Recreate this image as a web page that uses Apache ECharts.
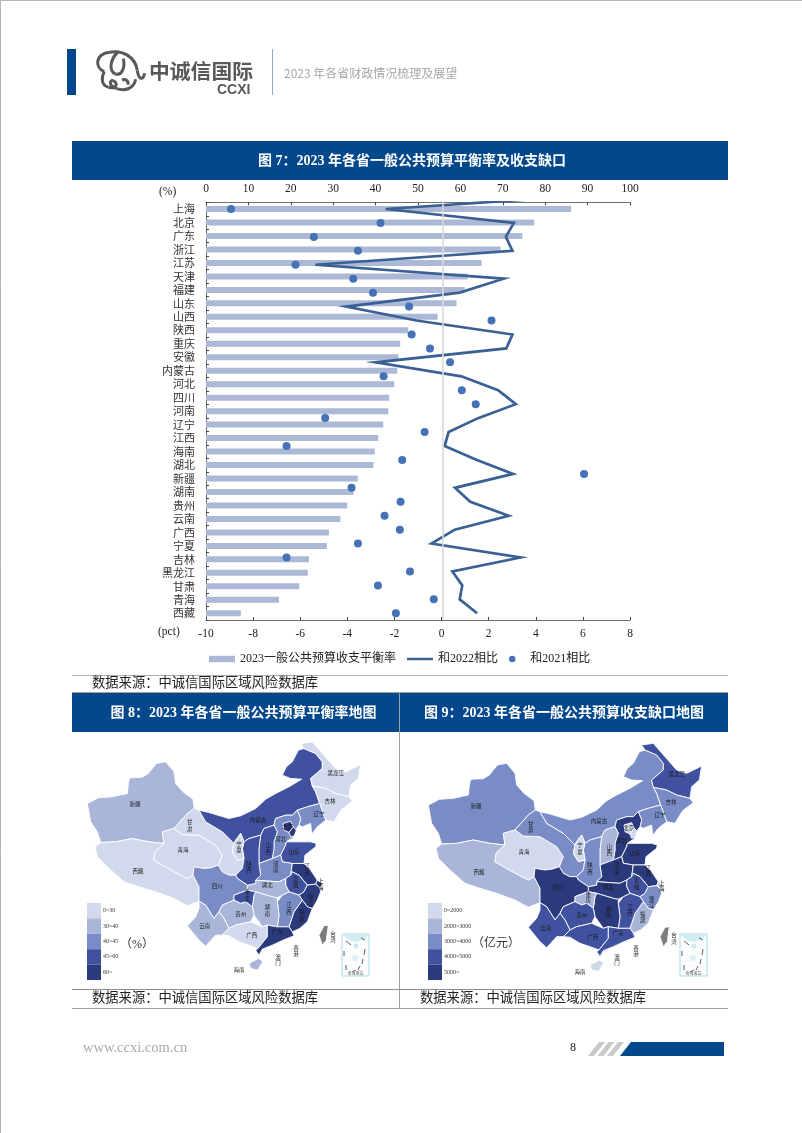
<!DOCTYPE html>
<html lang="zh">
<head>
<meta charset="utf-8">
<style>html,body{margin:0;padding:0;background:#fff}#c{width:802px;height:1133px}</style>
<script src="https://cdn.jsdelivr.net/npm/echarts@6/dist/echarts.min.js"></script>
</head>
<body>
<div id="c"></div>
<script>
const categories = ['上海','北京','广东','浙江','江苏','天津','福建','山东','山西','陕西','重庆','安徽','内蒙古','河北','四川','河南','辽宁','江西','海南','湖北','新疆','湖南','贵州','云南','广西','宁夏','吉林','黑龙江','甘肃','青海','西藏'];
const balanceRate = [86.1,77.4,74.6,69.5,65,61.7,61,59.1,54.6,47.7,45.8,45.4,45.1,44.4,43.2,43,41.8,40.6,39.8,39.5,35.8,34.8,33.3,31.7,29,28.5,24.3,24,22,17.2,8.2];
// The line and dots run on their own row scale; their first row lies above the plot top in the reference.
const vs2022 = [6.5,-2.37,3.07,2.73,3.01,-5.36,2.64,0.77,-4.05,-1.07,3.01,2.75,-2.8,0.84,2.4,3.15,1.55,0.3,0.13,1.5,3.04,0.57,1.22,2.85,0.56,-0.43,3.35,0.46,0.88,0.77,1.51];
const vs2021 = [0.5,-8.94,-2.59,-5.42,-3.55,-6.2,-3.75,-2.91,-1.38,2.12,-1.27,-0.49,0.36,-2.46,0.86,1.45,-4.94,-0.72,-6.58,-1.67,6.05,-3.82,-1.74,-2.42,-1.77,-3.55,-6.58,-1.34,-2.7,-0.33,-1.94];
const gapProvinces = ['新疆','西藏','青海','甘肃','内蒙古','黑龙江','吉林','辽宁','河北','北京','天津','山西','山东','陕西','宁夏','河南','江苏','上海','安徽','浙江','福建','江西','湖北','湖南','重庆','四川','贵州','云南','广西','广东','海南'];
const gapValues = [3700,2500,1500,3300,3300,4600,3100,3300,5500,1500,1000,2500,5300,3300,1200,6500,5700,1300,4800,3700,2700,4500,5600,5500,2900,7000,4300,4800,4500,4900,1500];
const ratePieces = [{min:0,max:30,label:'0~30'},{min:30,max:40,label:'30~40'},{min:40,max:45,label:'40~45'},{min:45,max:60,label:'45~60'},{min:60,label:'60~'}];
const gapPieces = [{min:0,max:2000,label:'0~2000'},{min:2000,max:3000,label:'2000~3000'},{min:3000,max:4000,label:'3000~4000'},{min:4000,max:5000,label:'4000~5000'},{min:5000,label:'5000~'}];
const pieceColors = ['#D2D9EC','#A9B6DA','#7A8CC6','#40529F','#2B3A7C'];

// Simplified province outlines (schematic map geometry)
const provinceShapes = {
'新疆':[[85,375],[118,358],[160,355],[205,345],[208,315],[212,298],[250,296],[268,285],[292,255],[320,250],[345,280],[350,315],[372,340],[402,362],[406,390],[385,405],[345,450],[310,460],[315,495],[270,490],[220,480],[170,490],[125,492],[115,460],[95,430]],
'西藏':[[125,492],[170,490],[220,480],[270,490],[315,495],[288,520],[285,545],[310,560],[365,590],[385,600],[402,590],[420,625],[420,668],[385,682],[345,660],[290,640],[240,625],[195,610],[150,570],[115,535],[108,505]],
'青海':[[310,460],[345,450],[370,468],[420,470],[470,500],[490,530],[478,560],[455,568],[435,570],[405,565],[402,590],[385,600],[365,590],[310,560],[285,545],[288,520],[315,495]],
'甘肃':[[345,450],[385,405],[406,390],[420,395],[440,430],[490,460],[525,495],[520,520],[535,545],[555,540],[550,570],[530,590],[510,590],[490,580],[478,560],[490,530],[470,500],[420,470],[370,468]],
'内蒙古':[[420,395],[450,402],[510,420],[545,412],[590,390],[620,362],[650,345],[690,325],[728,302],[695,300],[670,290],[682,265],[700,250],[718,215],[735,210],[770,225],[790,250],[790,270],[755,300],[760,322],[770,340],[782,375],[745,385],[715,395],[700,410],[680,410],[650,420],[645,440],[615,450],[605,470],[570,480],[555,490],[545,465],[530,485],[525,495],[490,460],[440,430]],
'黑龙江':[[725,195],[760,190],[795,230],[830,270],[860,280],[905,258],[898,300],[875,320],[870,355],[830,345],[800,330],[760,322],[755,300],[790,270],[790,250],[770,225],[735,210]],
'吉林':[[760,322],[800,330],[830,345],[870,355],[880,368],[848,392],[825,430],[800,425],[782,375],[770,340]],
'辽宁':[[745,385],[782,375],[800,425],[775,445],[758,467],[755,435],[730,445],[720,440],[725,420],[715,395]],
'河北':[[645,440],[650,420],[680,410],[700,410],[715,395],[725,420],[720,440],[705,460],[705,475],[682,490],[680,500],[665,530],[640,540],[645,510],[645,490],[655,460]],
'北京':[[672,435],[695,428],[703,445],[690,462],[675,455]],
'天津':[[690,462],[703,445],[712,455],[706,472],[695,475]],
'山西':[[615,450],[645,440],[655,460],[645,490],[645,510],[640,540],[600,555],[600,510],[605,470]],
'山东':[[680,500],[682,490],[705,490],[730,490],[755,490],[772,495],[770,505],[738,530],[735,555],[700,555],[670,550],[665,530]],
'河南':[[600,555],[640,540],[665,530],[670,550],[700,555],[695,590],[680,600],[660,610],[590,605],[605,590]],
'江苏':[[700,555],[735,555],[755,575],[775,605],[770,617],[745,620],[720,590],[700,580],[695,590]],
'安徽':[[695,590],[700,580],[720,590],[745,620],[735,640],[720,650],[690,640],[680,620],[680,600]],
'上海':[[775,605],[792,615],[782,628],[770,617]],
'浙江':[[745,620],[770,617],[782,628],[785,640],[775,665],[760,690],[745,685],[730,665],[720,650],[735,640]],
'福建':[[730,665],[745,685],[760,690],[745,730],[722,750],[700,760],[690,745],[695,730],[705,700]],
'江西':[[690,640],[720,650],[730,665],[705,700],[695,730],[690,745],[655,745],[660,710],[655,670],[670,650]],
'湖北':[[590,605],[660,610],[680,600],[680,620],[690,640],[670,650],[655,658],[640,655],[590,640],[565,635],[565,620],[590,615]],
'湖南':[[590,640],[640,655],[655,658],[655,670],[660,710],[655,745],[625,740],[610,745],[585,710],[580,685],[585,650]],
'陕西':[[555,490],[570,480],[605,470],[600,510],[600,555],[605,590],[590,605],[590,615],[565,620],[535,600],[530,590],[550,570],[555,540],[550,510]],
'宁夏':[[545,465],[555,490],[550,510],[555,540],[535,545],[520,520],[525,495],[530,485]],
'四川':[[402,590],[405,565],[435,570],[455,568],[478,560],[490,580],[510,590],[530,590],[535,600],[565,620],[565,635],[525,650],[525,665],[490,680],[480,700],[465,720],[440,680],[420,668],[420,625]],
'重庆':[[525,650],[565,635],[590,640],[585,650],[580,685],[560,670],[545,675],[525,665]],
'贵州':[[490,680],[525,665],[545,675],[560,670],[580,685],[585,710],[575,730],[530,740],[510,750],[495,720],[480,700]],
'云南':[[420,668],[440,680],[465,720],[480,700],[495,720],[510,750],[490,770],[470,770],[440,803],[420,785],[385,742],[410,715],[420,690]],
'广西':[[510,750],[530,740],[575,730],[610,745],[625,740],[625,775],[597,810],[570,800],[540,790],[510,772],[490,770]],
'广东':[[625,740],[655,745],[690,745],[700,760],[705,772],[672,785],[640,800],[610,812],[600,830],[590,815],[597,810],[625,775]],
'海南':[[570,855],[598,840],[612,848],[596,875],[575,870]],
'台湾':[[795,742],[808,740],[802,785],[790,800],[780,770]]
};
const labelAnchors = {'新疆':[228,377],'西藏':[237,577],'青海':[372,515],'甘肃':[392,440],'内蒙古':[597,424],'黑龙江':[830,283],'吉林':[813,367],'辽宁':[780,405],'山西':[628,510],'河北':[665,482],'北京':[686,444],'山东':[705,520],'河南':[650,565],'陕西':[570,565],'宁夏':[540,505],'江苏':[745,572],'安徽':[710,610],'上海':[785,618],'浙江':[755,665],'福建':[728,710],'江西':[690,690],'湖北':[625,620],'湖南':[625,695],'重庆':[565,650],'四川':[475,622],'贵州':[545,705],'云南':[437,743],'广西':[578,770],'广东':[655,760],'海南':[540,875],'台湾':[822,775]};
const verticalNames = ['甘肃','山西','河南','陕西','宁夏','江苏','安徽','上海','浙江','福建','江西','湖南','重庆','台湾'];
const noLabel = ['天津'];

const geoJson = {type:'FeatureCollection',features:Object.keys(provinceShapes).map(name=>({
  type:'Feature',properties:{name,cp:labelAnchors[name]||provinceShapes[name][0]},
  geometry:{type:'Polygon',coordinates:[provinceShapes[name].concat([provinceShapes[name][0]])]}
}))};
echarts.registerMap('rateMap',geoJson);
echarts.registerMap('gapMap',geoJson);

const SERIF = '"Liberation Serif","Noto Sans CJK SC",serif';
const BLUE = '#03478C';
const rows = vs2022.map((_,i)=>i);

function txt(text,x,y,size,fill,opt){opt=opt||{};return {type:'text',silent:true,z:10,style:{text,x,y,font:(opt.weight||'normal')+' '+size+'px '+(opt.family||SERIF),fill,textAlign:opt.align||'left',textVerticalAlign:'middle'}};}
function rect(x,y,w,h,fill){return {type:'rect',silent:true,z:1,shape:{x,y,width:w,height:h},style:{fill}};}
function hline(x1,y1,x2,y2,stroke,w){return {type:'line',silent:true,z:2,shape:{x1,y1,x2,y2},style:{stroke,lineWidth:w||1}};}
function poly(points,fill){return {type:'polygon',silent:true,z:2,shape:{points},style:{fill}};}

// Elephant logo strokes as cubic curves: start, control 1, control 2, end (in logo-crop units, 3x page scale)
const logoCurves = [
 [133,125,103,112,105,72,150,67],[150,67,185,60,226,78,232,122],[232,122,236,150,250,152,254,130],
 [133,125,124,140,122,166,146,172],[146,172,168,178,176,160,160,152],[160,152,146,150,148,170,170,176],[170,176,196,184,222,176,227,148],
 [172,68,150,90,146,122,166,132],[166,132,186,138,196,112,190,86],[186,150,196,146,206,152,204,164]
];
const logoEls = logoCurves.map(c=>({type:'bezierCurve',silent:true,z:3,
  shape:{x1:60+c[0]/3,y1:30+c[1]/3,cpx1:60+c[2]/3,cpy1:30+c[3]/3,cpx2:60+c[4]/3,cpy2:30+c[5]/3,x2:60+c[6]/3,y2:30+c[7]/3},
  style:{fill:'none',stroke:'#58595B',lineWidth:3}}));

function inset(x,y){ // small South China Sea inset
  const dashes=[[4,7,9,11],[19,4,23,6],[23,15,22,21],[21,25,20,30],[2,17,2,22],[4,31,4,36],[18,32,16,36],[10,38,14,36]];
  return [
    {type:'rect',silent:true,z:3,shape:{x,y,width:27,height:42},style:{fill:'#FBFEFF',stroke:'#A9D9E6',lineWidth:1}},
    {type:'polygon',silent:true,z:3,shape:{points:[[x+1,y+1],[x+26,y+1],[x+24,y+4],[x+14,y+8],[x+7,y+6]]},style:{fill:'#CDEDF2'}},
    {type:'circle',silent:true,z:3,shape:{cx:x+14,cy:y+12,r:2.5},style:{fill:'#CDE9F2'}},
    {type:'circle',silent:true,z:3,shape:{cx:x+13,cy:y+24,r:3},style:{fill:'#DCEFF6'}}
  ].concat(dashes.map(d=>({type:'line',silent:true,z:4,shape:{x1:x+d[0],y1:y+d[1],x2:x+d[2],y2:y+d[3]},style:{stroke:'#7A5566',lineWidth:1}})),
    [txt('南海诸岛',x+13.5,y+39,4,'#666',{align:'center',family:'"Noto Sans CJK SC"'})]);
}

const graphics = [
  hline(0.5,0,0.5,1133,'#B5B5B5',1), hline(0,0.5,802,0.5,'#B5B5B5',1),
  // header
  rect(67,49,9,46,BLUE),
  txt('中诚信国际',149,71.5,20.8,'#58595B',{weight:'bold',family:'"Noto Sans CJK SC"'}),
  txt('CCXI',217,90,14,'#58595B',{weight:'bold',family:'"Liberation Sans"'}),
  hline(272.5,49,272.5,95,'#8FAAC8',1),
  txt('2023 年各省财政情况梳理及展望',284,73,12,'#A8A8A8',{family:'"Noto Sans CJK SC"'}),
  // title bands
  rect(72,141,656,39,BLUE),
  txt('图 7：2023 年各省一般公共预算平衡率及收支缺口',412,161,14,'#fff',{weight:'bold',align:'center'}),
  rect(72,693,327,39,BLUE),
  txt('图 8：2023 年各省一般公共预算平衡率地图',243.5,713,14,'#fff',{weight:'bold',align:'center'}),
  rect(400,693,328,39,BLUE),
  txt('图 9：2023 年各省一般公共预算收支缺口地图',564,713,14,'#fff',{weight:'bold',align:'center'}),
  // rules
  hline(72,675.5,728,675.5,'#B0B0B0'), hline(72,692.5,728,692.5,'#A0A0A0'),
  hline(399.5,692,399.5,1008,'#A0A0A0'),
  hline(72,989.5,728,989.5,'#909090'), hline(72,1008.5,728,1008.5,'#A0A0A0'),
  txt('数据来源：中诚信国际区域风险数据库',92,683.5,13.3,'#222'),
  txt('数据来源：中诚信国际区域风险数据库',92,998.5,13.3,'#222'),
  txt('数据来源：中诚信国际区域风险数据库',420,998.5,13.3,'#222'),
  // axis units
  txt('(%)',159,192,11.5,'#222'),
  txt('(pct)',158,632,11.5,'#222'),
  // map units & outside labels
  txt('（%）',120,945,12,'#333'),
  txt('（亿元）',472,944,12,'#333'),
  txt('香\n港',296,951,5.5,'#222',{family:'"Noto Sans CJK SC"',align:'center'}),
  txt('澳\n门',278,960,5.5,'#222',{family:'"Noto Sans CJK SC"',align:'center'}),
  txt('香\n港',636,951,5.5,'#222',{family:'"Noto Sans CJK SC"',align:'center'}),
  txt('澳\n门',617,960,5.5,'#222',{family:'"Noto Sans CJK SC"',align:'center'}),
  // footer
  txt('www.ccxi.com.cn',83,1048,14.5,'#A9A9A9'),
  txt('8',573,1048,12,'#222',{align:'center'}),
  poly([[588,1056],[599,1042],[605,1042],[594,1056]],'#C9C9C9'),
  poly([[597.5,1056],[608.5,1042],[614.5,1042],[603.5,1056]],'#C9C9C9'),
  poly([[607,1056],[618,1042],[624,1042],[613,1056]],'#C9C9C9'),
  poly([[620,1056],[631,1042],[724,1042],[724,1056]],BLUE)
].concat(logoEls,inset(342,934),inset(680,934));

const axisFont = {fontFamily:SERIF,fontSize:11.5,color:'#222'};
const axisLine = {show:true,lineStyle:{color:'#6E6E6E',width:1}};
const axisTick = {show:true,inside:true,length:3,lineStyle:{color:'#444'}};
const mapLabel = {show:true,fontSize:5.5,lineHeight:6.5,color:'#1a1a1a',fontFamily:'"Noto Sans CJK SC"',
  formatter:p=>noLabel.includes(p.name)?'':(verticalNames.includes(p.name)?p.name.split('').join('\n'):p.name)};
const identity = {project:p=>p,unproject:p=>p};
function mapSeries(type,data,cx,cy){return {type:'map',map:type,projection:identity,aspectScale:1,layoutCenter:[cx,cy],layoutSize:273.3,roam:false,silent:true,selectedMode:false,showLegendSymbol:false,
  label:mapLabel,itemStyle:{areaColor:'#7C7C7C',borderColor:'#fff',borderWidth:0.9},emphasis:{disabled:true},data};}
function vmOpt(idx,pieces,left){return {type:'piecewise',seriesIndex:idx,pieces,inverse:true,orient:'vertical',align:'left',left,top:903,padding:0,itemWidth:14,itemHeight:15.4,itemGap:0,itemSymbol:'rect',textGap:2,
  inRange:{color:pieceColors},textStyle:{fontSize:6,color:'#333',fontFamily:SERIF},hoverLink:false,selectedMode:false};}

const chart = echarts.init(document.getElementById('c'),null,{renderer:'canvas'});
chart.setOption({
  animation:false,
  backgroundColor:'#fff',
  grid:{left:206,top:202.3,width:424,height:417.7,containLabel:false},
  legend:{left:209,top:653,padding:0,itemWidth:26,itemHeight:6.5,itemGap:11,textStyle:{fontFamily:SERIF,fontSize:12,color:'#222'},
    data:[{name:'2023一般公共预算收支平衡率',icon:'rect'},{name:'和2022相比',icon:'path://M0 0h.01v.01h-.01z M0 2h26v2.6h-26z M0 6.5h.01v.01h-.01z'},{name:'和2021相比',icon:'circle'}]},
  xAxis:[
    {type:'value',position:'top',min:0,max:100,interval:10,axisLine,axisTick,splitLine:{show:false},axisLabel:{...axisFont,margin:8}},
    {type:'value',position:'bottom',min:-10,max:8,interval:2,axisLine,axisTick,splitLine:{show:false},axisLabel:{...axisFont,margin:8}}
  ],
  yAxis:[
    {type:'category',inverse:true,data:categories,axisLine,axisTick:{...axisTick,alignWithLabel:false},axisLabel:{fontFamily:'"Noto Sans CJK SC"',fontSize:11,color:'#333',margin:11,interval:0}},
    {type:'value',inverse:true,min:0.52,max:30.48,show:false,splitLine:{show:false}}
  ],
  visualMap:[vmOpt(3,ratePieces,87),vmOpt(4,gapPieces,428)],
  series:[
    {name:'2023一般公共预算收支平衡率',type:'bar',xAxisIndex:0,yAxisIndex:0,data:balanceRate,barWidth:6,itemStyle:{color:'#ACB9D6'},silent:true,
      markLine:{silent:true,symbol:'none',label:{show:false},lineStyle:{color:'#DADADA',width:1.6,type:'solid'},data:[{xAxis:55.94}]}},
    {name:'和2022相比',type:'line',xAxisIndex:1,yAxisIndex:1,data:vs2022.map((v,i)=>[v,rows[i]]),symbol:'none',lineStyle:{color:'#3A6094',width:2.7,join:'miter'},itemStyle:{color:'#3A6094'},clip:true,silent:true,z:3},
    {name:'和2021相比',type:'scatter',xAxisIndex:1,yAxisIndex:1,data:vs2021.map((v,i)=>[v,rows[i]]),symbol:'circle',symbolSize:8,itemStyle:{color:'#4472B5',opacity:1},clip:true,silent:true,z:4},
    mapSeries('rateMap',categories.map((n,i)=>({name:n,value:balanceRate[i]})),224,856),
    mapSeries('gapMap',gapProvinces.map((n,i)=>({name:n,value:gapValues[i]})),565,857.5)
  ],
  graphic:{elements:graphics}
});
</script>
</body>
</html>
